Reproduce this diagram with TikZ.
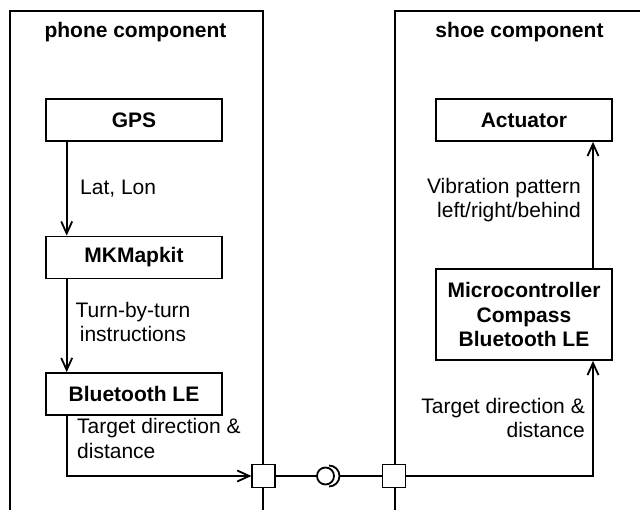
\documentclass[tikz,border=0pt]{standalone}
\usepackage{fontspec}
\setmainfont{Liberation Sans}
\usepackage{tikz}
\usetikzlibrary{calc}
\usetikzlibrary{positioning}
\usetikzlibrary{arrows.meta}
\newcommand{\lblfont}{\fontsize{21}{24.5}\selectfont}
\tikzset{
  comp_box/.style = {draw, rectangle, line width=1.8pt, anchor=north west,
    minimum width=253pt, minimum height=560pt},              % component frame
  comp_ttl/.style = {inner sep=0pt, anchor=base, font=\lblfont\bfseries}, % frame title
  part_box/.style = {draw, rectangle, line width=1.8pt, align=center,
    font=\lblfont\bfseries, minimum width=176pt, minimum height=42pt}, % inner block
  port_box/.style = {draw, rectangle, line width=1.8pt, fill=white,
    minimum size=23pt, inner sep=0pt},                       % port
  msg_lbl/.style = {inner sep=0pt, font=\lblfont},           % flow label
  wire/.style = {line width=1.8pt},
  flow/.style = {wire, ->}
}

\begin{document}
\begin{tikzpicture}[x=1pt,y=-1pt,>={Straight Barb[length=12pt,width=11pt]}]
  \useasboundingbox (0,0) rectangle (640,510);
  \clip (0,0) rectangle (640,510);

  % components
  \node [comp_box] (phone) at (9,10) {};
  \node [comp_box] (shoe) at (394,10) {};
  \node [comp_ttl] (phone_t) at (135.5,38) {phone component};
  \node [comp_ttl] (shoe_t) at (519.5,38) {shoe component};

  % phone side
  \node [part_box] (gps) at (134,120) {GPS};
  \node [part_box] (map) at (134,257.5) {MKMapkit};
  \node [part_box] (ble) at (134,394) {Bluetooth LE};

  % shoe side
  \node [part_box] (act) at (524,120) {Actuator};
  \node [part_box, minimum height=91pt] (mcu) at (524,314.5)
    {Microcontroller\\Compass\\Bluetooth LE};

  % ports and interface
  \node [port_box] (pport) at (phone.east |- 0,476) {};
  \node [port_box] (sport) at (shoe.west |- 0,476) {};
  \node [draw, circle, line width=1.8pt, minimum size=17pt, inner sep=0pt]
    (ball) at (325.5,476) {};
  \coordinate (sock) at ($(ball.center)+(14,0)$);
  \draw [wire] ($(ball.center)+(3.5,-10.5)$) arc [start angle=-90, end angle=90, radius=10.5];
  \draw [wire] (pport.east) -- (ball.west);
  \draw [wire] (sock) -- (sport.west);

  % flows
  \coordinate (plane) at (66.7,0);
  \coordinate (slane) at (593,0);
  \draw [flow] (plane |- gps.south) -- (plane |- map.north);
  \draw [flow] (plane |- map.south) -- (plane |- ble.north);
  \draw [flow] (plane |- ble.south) |- (pport.west);
  \draw [flow] (sport.east) -| (slane |- mcu.south);
  \draw [flow] (slane |- mcu.north) -- (slane |- act.south);

  % labels
  \node [msg_lbl, anchor=base west] (l_latlon) at (80,195) {Lat, Lon};
  \node [msg_lbl, align=center, anchor=base] (l_turn) at (133,342)
    {Turn-by-turn\\instructions};
  \node [msg_lbl, align=left, anchor=base west] (l_ptgt) at (77,458)
    {Target direction \&\\distance};
  \node [msg_lbl, align=right, anchor=base east] (l_stgt) at (585,438)
    {Target direction \&\\distance};
  \node [msg_lbl, align=right, anchor=base east] (l_vib) at (581,218)
    {Vibration pattern\\left/right/behind};
\end{tikzpicture}
\end{document}
